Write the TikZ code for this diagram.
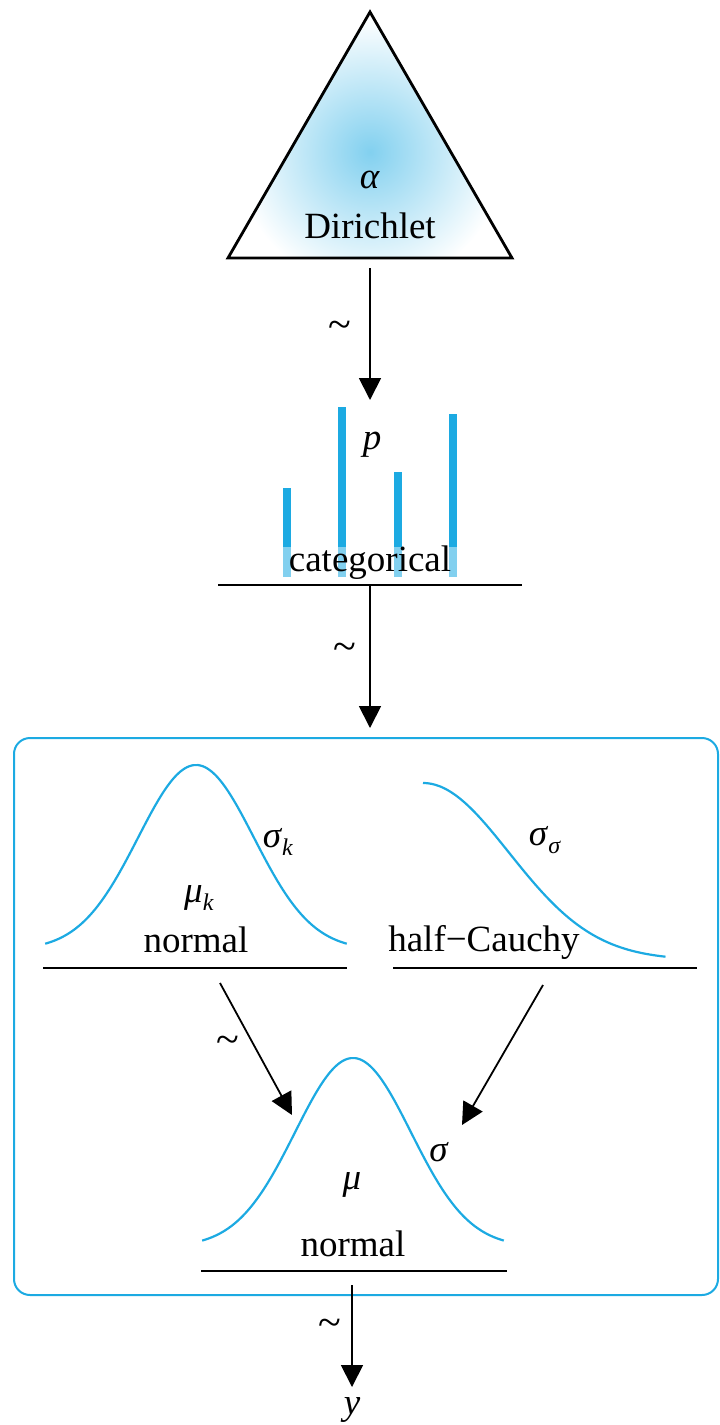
\documentclass[tikz,border=0pt]{standalone}
\usepackage{fontspec}
\setmainfont{Liberation Serif}
\usetikzlibrary{arrows.meta,positioning,calc}
\definecolor{cyanline}{RGB}{28,170,226}

\newcommand{\gk}[1]{\textit{#1}}
\newcommand{\subk}[1]{\raisebox{-0.22em}{\fontsize{24}{26}\selectfont\textit{#1}}}

\tikzset{
  dist/.style={cyanline, line width=2.2pt},
  rulebar/.style={line width=1.8pt},
  simarrow/.style={line width=1.8pt, -{Triangle[length=22pt,width=22pt]}},
  lbl/.style={font=\fontsize{37}{44}\selectfont, inner sep=0pt},
  tildelbl/.style={font=\fontsize{42}{48}\selectfont, inner sep=0pt},
}

\begin{document}
\begin{tikzpicture}[x=1pt, y=-1pt]
\useasboundingbox (0,0) rectangle (720,1425);

% Dirichlet prior
\coordinate (apex) at (370,12);
\coordinate (triL) at (228,258);
\coordinate (triR) at (512,258);
\coordinate (tribase) at (370,258);
\begin{scope}
  \clip (apex) -- (triL) -- (triR) -- cycle;
  \shade[inner color=cyanline!55, outer color=white] (370,152) circle (135);
\end{scope}
\draw[line width=2.8pt, line join=miter] (apex) -- (triL) -- (triR) -- cycle;
\node[lbl] (alpha) at (370,180) {\gk{α}};
\node[lbl] (dirichlet) at (370,226) {Dirichlet};

% categorical
\coordinate (ptop) at (370,400);
\draw[simarrow, shorten <=10pt] (tribase) -- (ptop);
\node[tildelbl] (tilde1) at (340,330) {\textasciitilde};
\foreach \bx/\btop in {287/488, 342/407, 398/472, 453/414} {
  \draw[cyanline, line width=8pt] (\bx,\btop) -- (\bx,547);
  \draw[cyanline!55, line width=8pt] (\bx,547) -- (\bx,577);
}
\node[lbl] (p) at (372,445) {\gk{p}};
\node[lbl] (categorical) at (370,563) {categorical};
\coordinate (catL) at (218,585);
\coordinate (catR) at (522,585);
\coordinate (catmid) at (370,585);
\draw[rulebar] (catL) -- (catR);

% mixture component box
\coordinate (boxtop) at (370,728);
\draw[simarrow] (catmid) -- (boxtop);
\node[tildelbl] (tilde2) at (345,652) {\textasciitilde};
\draw[cyanline, line width=2pt, rounded corners=16pt] (14,738) rectangle (718,1295);

% normal for mu_k
\draw[dist] plot[domain=-2.6:2.6, samples=70, smooth] ({196+58*\x},{950-185*exp(-\x*\x/2)});
\node[lbl] (sigmak) at (278,842) {\gk{σ}\subk{k}};
\node[lbl] (muk) at (199,898) {\gk{μ}\subk{k}};
\node[lbl] (normalk) at (196,940) {normal};
\coordinate (nkL) at (43,968);
\coordinate (nkR) at (347,968);
\draw[rulebar] (nkL) -- (nkR);

% half-Cauchy for sigma
\draw[dist] plot[domain=0:2.82, samples=60, smooth] ({423+86*\x},{960-177*exp(-\x*\x/2)});
\node[lbl] (sigmas) at (545,840) {\gk{σ}\subk{σ}};
\node[lbl] (halfcauchy) at (484,942) {half\textminus Cauchy};
\coordinate (hcL) at (393,968);
\coordinate (hcR) at (697,968);
\draw[rulebar] (hcL) -- (hcR);

% likelihood
\coordinate (fromk) at (220,983);
\coordinate (froms) at (543,985);
\coordinate (tomu) at (292,1115);
\coordinate (tosig) at (462,1125);
\draw[simarrow] (fromk) -- (tomu);
\draw[simarrow] (froms) -- (tosig);
\node[tildelbl] (tilde3) at (228,1045) {\textasciitilde};
\draw[dist] plot[domain=-2.6:2.6, samples=70, smooth] ({353+58*\x},{1247-189*exp(-\x*\x/2)});
\node[lbl] (sigma) at (439,1152) {\gk{σ}};
\node[lbl] (mu) at (352,1185) {\gk{μ}};
\node[lbl] (normal) at (353,1244) {normal};
\coordinate (nL) at (201,1271);
\coordinate (nR) at (507,1271);
\coordinate (nmid) at (352,1285);
\draw[rulebar] (nL) -- (nR);

% observation
\coordinate (ytop) at (352,1387);
\draw[simarrow] (nmid) -- (ytop);
\node[tildelbl] (tilde4) at (330,1328) {\textasciitilde};
\node[lbl] (y) at (352,1410) {\gk{y}};
\end{tikzpicture}
\end{document}
